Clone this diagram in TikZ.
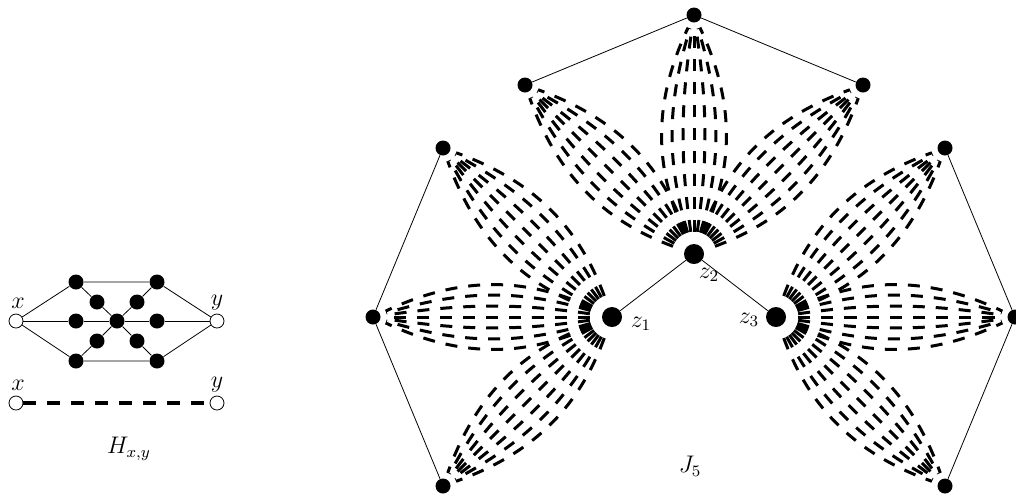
\documentclass[tikz,border=0pt]{standalone}
\usepackage{amsmath}
\usetikzlibrary{calc}

\tikzset{
  vtx/.style={circle, fill=black, inner sep=0pt, minimum size=7.5pt},
  bigvtx/.style={circle, fill=black, inner sep=0pt, minimum size=10pt},
  term/.style={circle, draw=black, fill=white, inner sep=0pt, minimum size=7pt},
  lbl/.style={font=\large},
  petal/.style={line width=1.5pt, dash pattern=on 6pt off 5.5pt, shorten <=6pt, shorten >=3pt},
  hline/.style={line width=2pt, dash pattern=on 6.5pt off 5.5pt}
}

\begin{document}
\begin{tikzpicture}[x=0.5pt, y=-0.5pt, thin]
  \useasboundingbox (0,0) rectangle (1016,495);

  % the gadget H_{x,y}
  \node[term] (x)  at (16,321)  {};
  \node[term] (y)  at (217,321) {};
  \node[vtx]  (tl) at (76,282)  {};
  \node[vtx]  (tr) at (157,282) {};
  \node[vtx]  (ml) at (76,321)  {};
  \node[vtx]  (c)  at (117,321) {};
  \node[vtx]  (mr) at (157,321) {};
  \node[vtx]  (bl) at (76,361)  {};
  \node[vtx]  (br) at (157,361) {};
  \node[vtx]  (p)  at (97,302)  {};
  \node[vtx]  (q)  at (137,302) {};
  \node[vtx]  (r)  at (97,341)  {};
  \node[vtx]  (s)  at (137,341) {};

  \draw (x) -- (tl) -- (tr) -- (y);
  \draw (x) -- (bl) -- (br) -- (y);
  \draw (x) -- (ml) -- (c) -- (mr) -- (y);
  \draw (tl) -- (p) -- (c) -- (s) -- (br);
  \draw (tr) -- (q) -- (c) -- (r) -- (bl);

  \node[lbl] (lx) at (18,303) {$x$};
  \node[lbl] (ly) at (217,303) {$y$};

  % its short form
  \node[term] (x2) at (16,403)  {};
  \node[term] (y2) at (217,403) {};
  \draw[hline] (x2) -- (y2);
  \node[lbl] (lx2) at (18,385) {$x$};
  \node[lbl] (ly2) at (217,385) {$y$};

  \node[lbl] (lH) at (129,449) {$H_{x,y}$};

  % the graph J_5
  \node[bigvtx] (z1) at (612,317) {};
  \node[bigvtx] (z2) at (694,254) {};
  \node[bigvtx] (z3) at (776,317) {};

  \node[vtx] (a1) at (373,317)  {};
  \node[vtx] (a2) at (443,148)  {};
  \node[vtx] (a3) at (443,486)  {};
  \node[vtx] (b1) at (694,15)   {};
  \node[vtx] (b2) at (525,85)   {};
  \node[vtx] (b3) at (863,85)   {};
  \node[vtx] (c1) at (1015,317) {};
  \node[vtx] (c2) at (945,148)  {};
  \node[vtx] (c3) at (945,486)  {};

  \draw (a2) -- (a1) -- (a3);
  \draw (b2) -- (b1) -- (b3);
  \draw (c2) -- (c1) -- (c3);
  \draw (z1) -- (z2) -- (z3);

  \foreach \b in {-25,-16.7,-8.3,0,8.3,16.7,25} {
    \draw[petal] (z1) to[bend left=\b] (a1);
    \draw[petal] (z1) to[bend left=\b] (a2);
    \draw[petal] (z1) to[bend left=\b] (a3);
    \draw[petal] (z2) to[bend left=\b] (b1);
    \draw[petal] (z2) to[bend left=\b] (b2);
    \draw[petal] (z2) to[bend left=\b] (b3);
    \draw[petal] (z3) to[bend left=\b] (c1);
    \draw[petal] (z3) to[bend left=\b] (c2);
    \draw[petal] (z3) to[bend left=\b] (c3);
  }

  \node[lbl] (l1) at (641,324) {$z_1$};
  \node[lbl] (l2) at (709,275) {$z_2$};
  \node[lbl] (l3) at (749,320) {$z_3$};
  \node[lbl] (lJ) at (690,466) {$J_5$};
\end{tikzpicture}
\end{document}
